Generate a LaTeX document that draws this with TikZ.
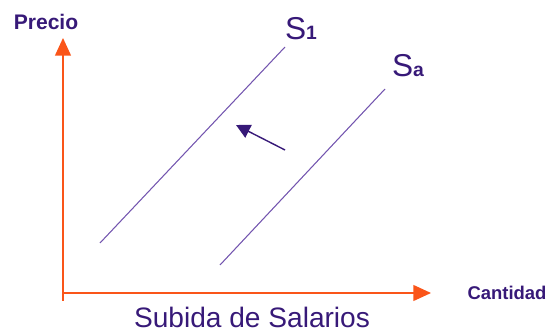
\documentclass[tikz,border=0pt]{standalone}
\usepackage{fontspec}
\setmainfont{Liberation Sans}
\usepackage{tikz}
\usetikzlibrary{arrows.meta}

\definecolor{axiscol}{RGB}{250,85,25}
\definecolor{labelcol}{RGB}{55,25,120}
\definecolor{curvecol}{RGB}{115,85,175}

\begin{document}
\begin{tikzpicture}[x=0.02cm,y=-0.02cm,
  axis/.style={axiscol, line width=0.8pt, -{Triangle[length=10pt,width=9pt]}},
  supply/.style={curvecol, line width=0.6pt},
  lbl/.style={labelcol, inner sep=0pt}]

\useasboundingbox (0,0) rectangle (554,333);

% Axes
\coordinate (origin) at (63,293);
\coordinate (ytip) at (63,38);
\coordinate (xtip) at (431,293);
\draw[axis] (63,301) -- (ytip);
\draw[axis] (origin) -- (xtip);

% Axis labels
\node[lbl, font=\bfseries\fontsize{12}{14}\selectfont] (precio) at (46,22) {Precio};
\node[lbl, font=\bfseries\fontsize{10.5}{12}\selectfont] (cantidad) at (507,293) {Cantidad};

% Supply curves
\coordinate (s1a) at (100,243);
\coordinate (s1b) at (285,47);
\coordinate (s0a) at (220,265);
\coordinate (s0b) at (385,89);
\draw[supply] (s1a) -- (s1b);
\draw[supply] (s0a) -- (s0b);

% Curve labels
\node[lbl, font=\fontsize{18}{20}\selectfont] (s1) at (301,29)
  {S{\bfseries\fontsize{11}{12}\selectfont 1}};
\node[lbl, font=\fontsize{18}{20}\selectfont] (s0) at (408,66)
  {S{\bfseries\fontsize{11}{12}\selectfont a}};

% Shift arrow
\coordinate (shiftfrom) at (285,150);
\coordinate (shiftto) at (236,125);
\draw[curvecol, line width=0.8pt, -{Triangle[length=8pt,width=8pt]}, labelcol] (shiftfrom) -- (shiftto);

% Title
\node[lbl, font=\fontsize{16}{18}\selectfont] (title) at (252,317) {Subida de Salarios};

\end{tikzpicture}
\end{document}
